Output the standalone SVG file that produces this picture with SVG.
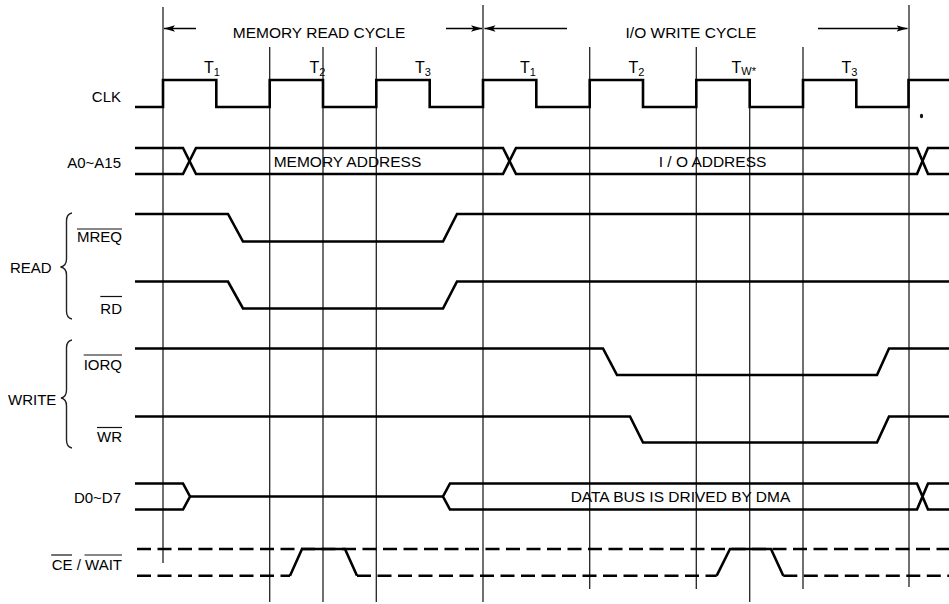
<svg xmlns="http://www.w3.org/2000/svg" width="949" height="604" viewBox="0 0 949 604">
<defs>
<marker id="ah" markerWidth="12" markerHeight="8" refX="11" refY="4" orient="auto" markerUnits="userSpaceOnUse">
<path d="M0,0.8 L11,4 L0,7.2 L2.5,4 Z" fill="#000"/>
</marker>
</defs>
<style>
text{font-family:"Liberation Sans",Arial,sans-serif;fill:#000;font-size:15px}
.lbl{text-anchor:end}
.mid{text-anchor:middle}
.big{font-size:15.5px}
.t{font-size:16px}
.sub{font-size:11px}
.grid{stroke:#222;stroke-width:1.3;fill:none}
.sig{stroke:#000;stroke-width:2.6;fill:none;stroke-linejoin:miter}
.dash{stroke:#000;stroke-width:2.6;fill:none;stroke-dasharray:14 6.5}
.arr{stroke:#000;stroke-width:1.5;fill:none}
.brace{stroke:#222;stroke-width:1.4;fill:none}
.ovl{stroke:#111;stroke-width:1.2}
</style>
<rect width="949" height="604" fill="#fff"/>

<g id="gridlines">
<line class="grid" x1="163" y1="7" x2="163" y2="563"/>
<line class="grid" x1="269.7" y1="47" x2="269.7" y2="602"/>
<line class="grid" x1="323" y1="47" x2="323" y2="602"/>
<line class="grid" x1="376.3" y1="47" x2="376.3" y2="602"/>
<line class="grid" x1="483" y1="5" x2="483" y2="602"/>
<line class="grid" x1="589.7" y1="47" x2="589.7" y2="589"/>
<line class="grid" x1="696.3" y1="47" x2="696.3" y2="589"/>
<line class="grid" x1="749.7" y1="80" x2="749.7" y2="602"/>
<line class="grid" x1="803" y1="47" x2="803" y2="589"/>
<line class="grid" x1="909" y1="5" x2="909" y2="587"/>
</g>

<g id="cycle-arrows">
<line class="arr" x1="196" y1="28.5" x2="164" y2="28.5" marker-end="url(#ah)"/>
<line class="arr" x1="446" y1="28.5" x2="482" y2="28.5" marker-end="url(#ah)"/>
<line class="arr" x1="567" y1="28.5" x2="484.5" y2="28.5" marker-end="url(#ah)"/>
<line class="arr" x1="818" y1="28.5" x2="907.5" y2="28.5" marker-end="url(#ah)"/>
</g>

<g id="cycle-labels">
<text class="big mid" x="319" y="38">MEMORY READ CYCLE</text>
<text class="big mid" x="691" y="38">I/O WRITE CYCLE</text>
</g>

<g id="t-states">
<text class="t" x="204" y="73">T<tspan class="sub" dy="3">1</tspan></text>
<text class="t" x="309.5" y="73">T<tspan class="sub" dy="3">2</tspan></text>
<text class="t" x="415" y="73">T<tspan class="sub" dy="3">3</tspan></text>
<text class="t" x="520" y="73">T<tspan class="sub" dy="3">1</tspan></text>
<text class="t" x="628.5" y="73">T<tspan class="sub" dy="3">2</tspan></text>
<text class="t" x="731.5" y="73">T<tspan class="sub" dy="1.5">W*</tspan></text>
<text class="t" x="841.5" y="73">T<tspan class="sub" dy="3">3</tspan></text>
</g>

<g id="clk">
<text class="lbl" x="121" y="101.5">CLK</text>
<path class="sig" d="M135,107 H163 V80 H216.3 V107 H269.7 V80 H323 V107 H376.3 V80 H429.7 V107 H483 V80 H536.3 V107 H589.7 V80 H643 V107 H696.3 V80 H749.7 V107 H803 V80 H856.3 V107 H908.5 V80 H949"/>
<ellipse cx="921.5" cy="116" rx="1.6" ry="2.2" fill="#111"/>
</g>

<g id="address-bus">
<text class="lbl" x="121" y="168">A0~A15</text>
<path class="sig" d="M135,148 H183 L196,174 H503 L516,148 H917 L928,174 H949"/>
<path class="sig" d="M135,174 H183 L196,148 H503 L516,174 H917 L928,148 H949"/>
<text class="big mid" x="347.5" y="167">MEMORY ADDRESS</text>
<text class="big mid" x="712.5" y="167">I / O ADDRESS</text>
</g>

<g id="read-group">
<text x="10" y="273">READ</text>
<path class="brace" d="M72,213 Q66.5,214 66.5,221 V259 Q66.5,266 60.5,267 Q66.5,268 66.5,275 V311 Q66.5,318 72,319"/>
</g>

<g id="mreq">
<text class="lbl" x="122" y="241.5">MREQ</text>
<line class="ovl" x1="77" y1="229" x2="122" y2="229"/>
<path class="sig" d="M135,214 H228 L243,241.5 H443 L457,214 H949"/>
</g>

<g id="rd">
<text class="lbl" x="122" y="314">RD</text>
<line class="ovl" x1="100.3" y1="296.5" x2="122" y2="296.5"/>
<path class="sig" d="M135,281.5 H228 L243,308.5 H443 L457,281.5 H949"/>
</g>

<g id="write-group">
<text x="8" y="405">WRITE</text>
<path class="brace" d="M72,340 Q66.5,341 66.5,348 V390 Q66.5,397 61,398 Q66.5,399 66.5,406 V440 Q66.5,447 72,448"/>
</g>

<g id="iorq">
<text class="lbl" x="122" y="370">IORQ</text>
<line class="ovl" x1="83.7" y1="355" x2="122" y2="355"/>
<path class="sig" d="M135,348.5 H603 L617,375 H877 L889,348.5 H949"/>
</g>

<g id="wr">
<text class="lbl" x="122" y="442">WR</text>
<line class="ovl" x1="97" y1="427.5" x2="122" y2="427.5"/>
<path class="sig" d="M135,416.5 H630 L643,442.5 H877 L889,416.5 H949"/>
</g>

<g id="data-bus">
<text class="lbl" x="121" y="503">D0~D7</text>
<path class="sig" d="M135,483.5 H183 L190,496.5 L183,509.5 H135"/>
<path class="sig" d="M190,496.5 H443"/>
<path class="sig" d="M949,483.5 H928 L917,509.5 H450 L443,496.5 L450,483.5 H917 L928,509.5 H949"/>
<text class="big mid" x="680.5" y="502">DATA BUS IS DRIVED BY DMA</text>
</g>

<g id="ce-wait">
<text class="lbl" x="122" y="570">CE / WAIT</text>
<line class="ovl" x1="51.2" y1="555" x2="72" y2="555"/>
<line class="ovl" x1="84.5" y1="555" x2="122" y2="555"/>
<path class="dash" d="M137,549 H949"/>
<path class="dash" d="M137,575.7 H290"/>
<path class="sig" d="M290,575.7 L302,549 H345 L357,575.7"/>
<path class="dash" d="M357,575.7 H716.7"/>
<path class="sig" d="M716.7,575.7 L730,549 H771 L783.3,575.7"/>
<path class="dash" d="M783.3,575.7 H949"/>
</g>
</svg>
